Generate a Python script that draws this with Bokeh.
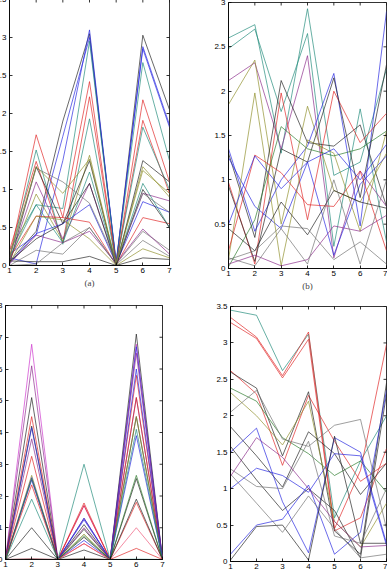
import math
from bokeh.plotting import figure
from bokeh.layouts import row, column
from bokeh.models import FixedTicker, Range1d
from bokeh.embed import file_html
from bokeh.resources import INLINE

X = [1, 2, 3, 4, 5, 6, 7]
X_TICKS = [1, 2, 3, 4, 5, 6, 7]

BLUE = "#2323e0"
RED = "#e02323"
TEAL = "#1f8a7a"
GREEN = "#2a7a2a"
BLACK = "#202020"
PURPLE = "#8a2a8a"
MAGENTA = "#cc33cc"
OLIVE = "#8f8f2a"
GRAY = "#707070"
PINK = "#ee5577"

# ---------------- panel (a) ----------------
A_COLORS = [BLACK, BLUE, BLUE, TEAL, RED, RED, TEAL, OLIVE, BLACK, PURPLE, BLUE,
            RED, OLIVE, GRAY, BLACK, TEAL, PURPLE, BLACK, GRAY, GRAY, OLIVE]
A_SERIES = [
    [0.05, 0.45, 1.90, 3.05, 0.02, 3.03, 2.05],
    [0.10, 0.02, 1.38, 3.10, 0.03, 2.88, 1.85],
    [0.15, 0.40, 1.70, 3.00, 0.05, 2.85, 1.82],
    [0.20, 0.80, 0.75, 2.95, 0.02, 2.67, 1.38],
    [0.10, 1.72, 0.63, 2.42, 0.00, 2.18, 1.10],
    [0.20, 1.37, 0.30, 2.22, 0.03, 1.91, 0.95],
    [0.08, 1.52, 0.28, 1.93, 0.02, 1.82, 1.00],
    [0.05, 0.94, 0.32, 1.45, 0.01, 1.30, 0.90],
    [0.02, 1.30, 0.55, 1.38, 0.00, 1.38, 1.10],
    [0.05, 1.10, 0.35, 1.08, 0.02, 0.95, 0.85],
    [0.03, 0.42, 0.55, 0.80, 0.02, 0.84, 0.70],
    [0.10, 0.65, 0.63, 0.57, 0.01, 0.63, 0.55],
    [0.03, 0.65, 0.60, 0.35, 0.00, 0.22, 0.10],
    [0.00, 0.20, 0.15, 0.50, 0.02, 0.45, 0.20],
    [0.06, 0.05, 0.05, 0.12, 0.00, 0.10, 0.08],
    [0.10, 0.80, 0.30, 1.23, 0.01, 1.08, 0.50],
    [0.02, 0.40, 0.30, 0.45, 0.03, 0.48, 0.15],
    [0.05, 0.35, 0.55, 1.08, 0.00, 1.00, 0.50],
    [0.00, 0.02, 0.30, 0.50, 0.01, 0.33, 0.12],
    [0.10, 1.28, 1.10, 0.82, 0.05, 0.95, 0.70],
    [0.12, 1.30, 0.95, 1.40, 0.02, 1.25, 0.95],
]
A_YTICKS = [0, 0.5, 1, 1.5, 2, 2.5, 3, 3.5]
A_YLABELS = ["0", "0.5", "1", "1.5", "2", "2.5", "3", "3.5"]

# ---------------- panel (b) ----------------
B_COLORS = [TEAL, TEAL, PURPLE, OLIVE, BLACK, BLUE, BLUE, RED, BLACK, OLIVE,
            RED, BLACK, GRAY, GREEN, BLUE, PURPLE, GRAY]
B_SERIES = [
    [2.60, 2.75, 1.30, 2.93, 1.05, 1.20, 2.25],
    [2.48, 2.70, 1.77, 2.65, 0.25, 1.80, 0.30],
    [2.12, 2.32, 1.35, 2.40, 0.12, 1.10, 0.70],
    [1.85, 2.35, 0.50, 1.83, 0.88, 0.75, 1.30],
    [1.30, 0.35, 2.12, 1.42, 1.38, 1.62, 0.70],
    [1.35, 0.42, 1.00, 1.38, 2.20, 0.48, 2.90],
    [1.25, 0.70, 0.45, 1.20, 0.15, 0.95, 1.27],
    [0.97, 0.05, 1.98, 0.55, 2.00, 1.42, 1.75],
    [0.93, 0.08, 1.35, 1.20, 2.15, 0.80, 2.30],
    [0.10, 1.98, 0.03, 1.45, 1.30, 0.42, 1.55],
    [0.20, 1.28, 1.08, 0.72, 0.70, 1.10, 0.20],
    [0.45, 0.20, 0.75, 0.38, 0.88, 0.75, 0.68],
    [0.10, 0.20, 0.48, 0.45, 0.10, 0.30, 0.05],
    [0.02, 0.55, 1.60, 1.35, 1.27, 1.35, 1.55],
    [0.50, 1.27, 0.90, 1.20, 1.35, 1.00, 1.40],
    [0.05, 0.15, 0.03, 0.10, 0.48, 0.42, 0.60],
    [0.12, 0.03, 0.45, 0.05, 1.00, 0.05, 1.00],
]
B_YTICKS = [0, 0.5, 1, 1.5, 2, 2.5, 3]
B_YLABELS = ["0", "0.5", "1", "1.5", "2", "2.5", "3"]

# ---------------- panel (c) ----------------
C_COLORS = [MAGENTA, PURPLE, BLACK, RED, BLACK, BLUE, PURPLE, RED, OLIVE, BLUE,
            BLUE, RED, TEAL, BLACK, BLACK, GREEN, PINK, RED, TEAL]
C_SERIES = [
    [0, 6.78, 0, 1.70, 0, 6.78, 0],
    [0, 6.10, 0, 1.30, 0, 5.10, 0],
    [0, 5.10, 0, 1.10, 0, 7.10, 0],
    [0, 4.50, 0, 1.78, 0, 5.10, 0],
    [0, 4.20, 0, 0.95, 0, 4.50, 0],
    [0, 4.15, 0, 1.25, 0, 6.70, 0],
    [0, 3.80, 0, 1.00, 0, 6.50, 0],
    [0, 3.25, 0, 1.70, 0, 5.80, 0],
    [0, 2.65, 0, 0.80, 0, 4.50, 0],
    [0, 2.58, 0, 0.60, 0, 6.00, 0],
    [0, 2.50, 0, 1.30, 0, 3.90, 0],
    [0, 2.35, 0, 0.50, 0, 1.80, 0],
    [0, 1.90, 0, 3.00, 0, 4.10, 0],
    [0, 1.00, 0, 0.70, 0, 1.90, 0],
    [0, 0.35, 0, 0.30, 0, 2.55, 0],
    [0, 2.55, 0, 0.75, 0, 2.65, 0],
    [0, 0.02, 0, 0.50, 0, 1.00, 0],
    [0, 0.01, 0, 0.02, 0, 0.35, 0],
    [0, 0.01, 0, 0.02, 0, 0.01, 0],
]
C_YTICKS = [0, 1, 2, 3, 4, 5, 6, 7, 8]
C_YLABELS = ["0", "1", "2", "3", "4", "5", "6", "7", "8"]

# ---------------- panel (d) ----------------
D_COLORS = [TEAL, RED, RED, RED, BLACK, GREEN, OLIVE, GRAY, BLACK, BLUE, BLACK,
            BLUE, GRAY, BLUE, BLACK, GRAY, PURPLE]
D_SERIES = [
    [3.45, 3.38, 2.62, 3.12, 0.60, 1.38, 2.00],
    [3.35, 3.08, 2.55, 3.15, 0.45, 1.25, 2.98],
    [3.28, 3.06, 2.52, 3.05, 0.42, 0.60, 1.55],
    [2.62, 2.30, 1.32, 2.28, 1.65, 1.10, 1.35],
    [2.60, 2.38, 1.45, 2.33, 0.42, 0.10, 2.45],
    [2.38, 2.20, 1.70, 1.48, 1.18, 1.38, 0.95],
    [2.32, 2.00, 1.60, 2.20, 0.55, 0.20, 0.80],
    [2.05, 2.35, 1.68, 1.58, 1.87, 1.95, 0.45],
    [1.85, 1.45, 1.02, 1.78, 1.48, 0.92, 1.35],
    [1.50, 1.83, 0.82, 0.12, 1.70, 1.50, 0.25],
    [1.58, 1.12, 0.70, 1.00, 0.70, 0.05, 2.30],
    [1.00, 1.28, 1.18, 0.95, 1.48, 1.45, 0.22],
    [1.27, 1.03, 1.00, 1.65, 0.35, 0.25, 1.00],
    [0.10, 0.50, 0.58, 1.05, 0.10, 0.40, 2.35],
    [0.02, 0.48, 0.50, 0.02, 1.72, 0.25, 0.25],
    [1.20, 0.80, 0.40, 0.90, 0.45, 0.05, 0.10],
    [1.17, 1.70, 1.43, 1.00, 0.55, 0.20, 0.22],
]
D_YTICKS = [0, 0.5, 1, 1.5, 2, 2.5, 3, 3.5]
D_YLABELS = ["0", "0.5", "1", "1.5", "2", "2.5", "3", "3.5"]

TICK_FONT = "Liberation Sans"
LABEL_FONT = "Liberation Serif"


def make_panel(series, colors, ymax, yticks, ylabels, xlabel,
               fw, fh, left, right, top, bottom, margin):
    p = figure(frame_width=fw, frame_height=fh,
               x_range=Range1d(1, 7), y_range=Range1d(0, ymax),
               output_backend="svg", toolbar_location=None,
               min_border_left=left, min_border_right=right,
               min_border_top=top, min_border_bottom=bottom,
               margin=margin, background_fill_color="white",
               border_fill_color="white")
    for ys, c in zip(series, colors):
        p.line(X, ys, line_color=c, line_width=0.8, line_alpha=0.85)
    p.xgrid.visible = False
    p.ygrid.visible = False
    p.outline_line_color = "black"
    p.outline_line_width = 0.8

    p.xaxis.ticker = FixedTicker(ticks=X_TICKS)
    p.yaxis.ticker = FixedTicker(ticks=yticks)
    p.yaxis.major_label_overrides = {v: s for v, s in zip(yticks, ylabels)}
    for ax in (p.xaxis[0], p.yaxis[0]):
        ax.major_tick_in = 3
        ax.major_tick_out = 0
        ax.minor_tick_in = 0
        ax.minor_tick_out = 0
        ax.axis_line_color = "black"
        ax.axis_line_width = 0.8
        ax.major_tick_line_width = 0.8
        ax.major_label_text_font = TICK_FONT
        ax.major_label_text_font_size = "8px"
        ax.major_label_text_color = "black"
    p.yaxis.major_label_standoff = 3
    p.xaxis.major_label_standoff = 2
    if xlabel:
        p.xaxis.axis_label = xlabel
        p.xaxis.axis_label_text_font = LABEL_FONT
        p.xaxis.axis_label_text_font_style = "normal"
        p.xaxis.axis_label_text_font_size = "9px"
        p.xaxis.axis_label_standoff = 2

    # inward tick marks on the top and right edges of the box (clipped to the frame)
    p.scatter(X_TICKS, [ymax] * len(X_TICKS), marker="dash", size=6,
              angle=math.pi / 2, line_color="black", line_width=0.8)
    p.scatter([7] * len(yticks), yticks, marker="dash", size=6,
              line_color="black", line_width=0.8)
    return p


pa = make_panel(A_SERIES, A_COLORS, 3.5, A_YTICKS, A_YLABELS, "(a)",
                160, 272, 30, 29, 5, 32, (-6, 0, 0, -21))
pb = make_panel(B_SERIES, B_COLORS, 3.0, B_YTICKS, B_YLABELS, "(b)",
                158, 269, 30, 1, 5, 32, (-3, 0, 0, 0))
pc = make_panel(C_SERIES, C_COLORS, 8.0, C_YTICKS, C_YLABELS, None,
                157, 257, 30, 38, 5, 17, (-3, 0, 0, -25))
pd = make_panel(D_SERIES, D_COLORS, 3.5, D_YTICKS, D_YLABELS, None,
                156, 257, 30, 1, 5, 16, (-2, 0, 0, 0))

layout = column(row(pa, pb), row(pc, pd), width=387, height=579,
                styles={"overflow": "hidden"})

open("out.html", "w").write(file_html(layout, INLINE))
